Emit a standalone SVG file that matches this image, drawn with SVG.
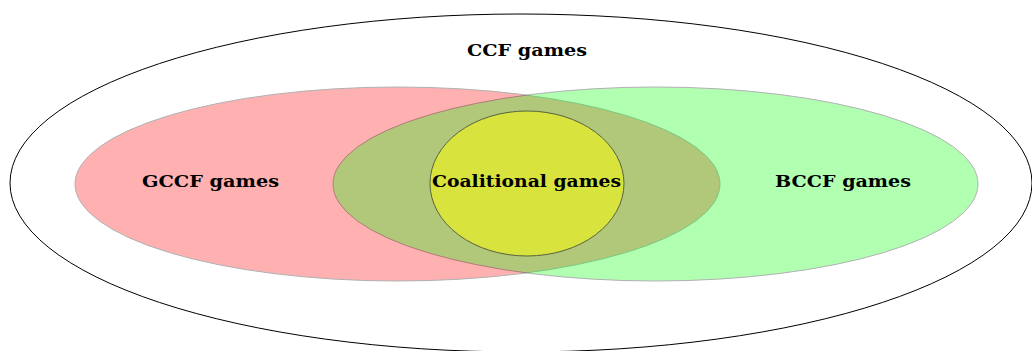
<svg xmlns="http://www.w3.org/2000/svg" width="1032" height="351" viewBox="0 0 1032 351">
<style>
.lbl{font-family:"DejaVu Serif","Liberation Serif",serif;font-weight:bold;font-size:17px;fill:#000;text-anchor:middle}
.set{stroke:#000;stroke-width:1}
</style>
<rect width="1032" height="351" fill="#fff"/>
<g id="ccf">
<ellipse class="set" cx="521" cy="183" rx="511" ry="169" fill="none"/>
<text class="lbl" x="527" y="56" textLength="120" lengthAdjust="spacingAndGlyphs">CCF games</text>
</g>
<g id="gccf">
<ellipse class="set" cx="397.5" cy="184" rx="322.5" ry="97" fill="#f00" opacity="0.3"/>
</g>
<g id="bccf">
<ellipse class="set" cx="655.5" cy="184" rx="322.5" ry="97" fill="#0f0" opacity="0.3"/>
</g>
<g id="coalitional">
<ellipse class="set" cx="527" cy="183.5" rx="97" ry="72.5" fill="#ff0" opacity="0.5"/>
</g>
<g id="labels">
<text class="lbl" x="210.5" y="187" textLength="137" lengthAdjust="spacingAndGlyphs">GCCF games</text>
<text class="lbl" x="843" y="187" textLength="136" lengthAdjust="spacingAndGlyphs">BCCF games</text>
<text class="lbl" x="526.5" y="187" textLength="189" lengthAdjust="spacingAndGlyphs">Coalitional games</text>
</g>
<g id="connectors"></g>
</svg>
